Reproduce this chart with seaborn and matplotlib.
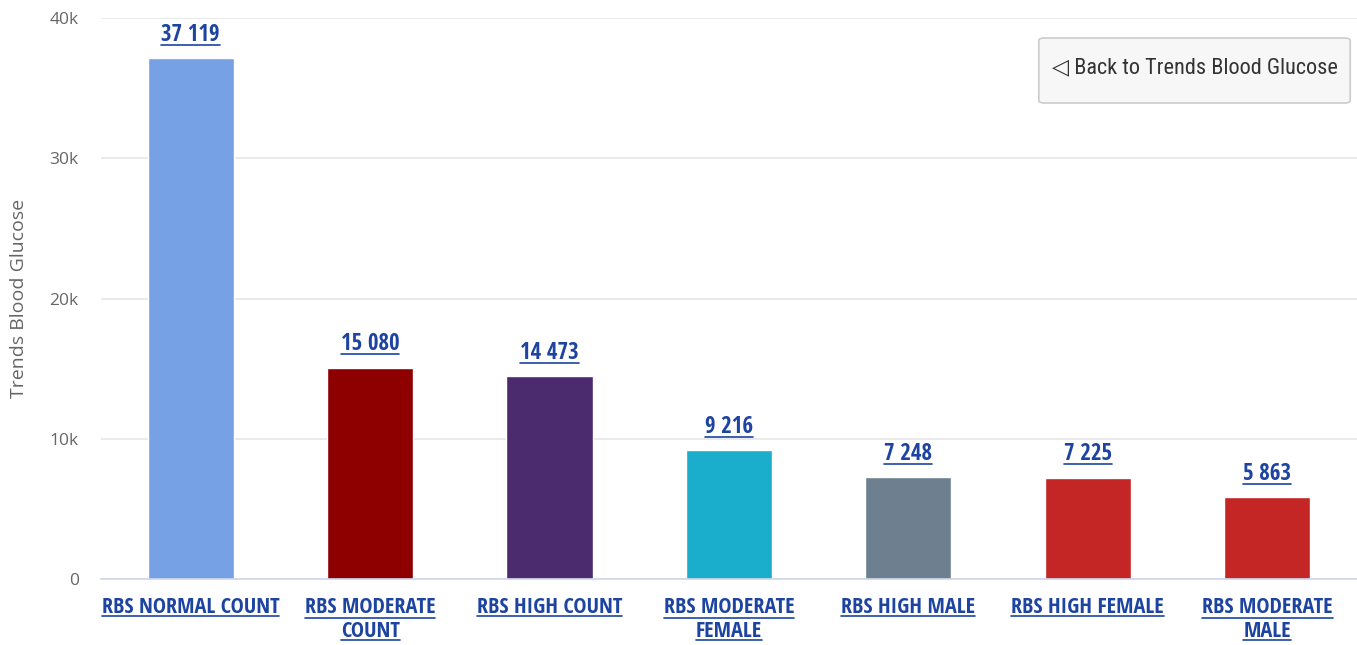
import numpy as np
import pandas as pd
import seaborn as sns
import matplotlib.pyplot as plt
import matplotlib.font_manager as fm
from matplotlib.lines import Line2D
from matplotlib.patches import FancyBboxPatch

categories = ["RBS NORMAL COUNT", "RBS MODERATE\nCOUNT", "RBS HIGH COUNT",
              "RBS MODERATE\nFEMALE", "RBS HIGH MALE", "RBS HIGH FEMALE",
              "RBS MODERATE\nMALE"]
values = [37119, 15080, 14473, 9216, 7248, 7225, 5863]
colors = ["#77a1e5", "#8e0000", "#4b2a6e", "#1aaecc", "#6e7f8f", "#c42525", "#c42525"]
yticks = [0, 10000, 20000, 30000, 40000]
ytick_labels = ["0", "10k", "20k", "30k", "40k"]

# pick narrow fonts if any are around
fonts = fm.fontManager.ttflist
cands = ["Open Sans Condensed", "Roboto Condensed", "Liberation Sans Narrow",
         "PT Sans Narrow", "Fira Sans Condensed", "Archivo Narrow",
         "IBM Plex Sans Condensed", "Encode Sans Condensed", "Asap Condensed"]
narrow = "DejaVu Sans"
for c in cands:
    if any(f.name == c for f in fonts):
        narrow = c
        break
narrow_reg = None
for c in cands:
    if any(f.name == c and f.weight in (400, "normal", "regular") for f in fonts):
        narrow_reg = c
        break
have = set(f.name for f in fonts)
plain = "Open Sans" if "Open Sans" in have else "DejaVu Sans"

sns.set_theme(style="white")
plt.rcParams["font.family"] = [narrow, "DejaVu Sans"]

df = pd.DataFrame({"cat": categories, "val": values})

fig = plt.figure(figsize=(13.57, 6.45), dpi=100)
ax = fig.add_axes([0.0744, 0.1023, 0.9256, 0.8697])

sns.barplot(data=df, x="cat", y="val", hue="cat", palette=colors, width=0.48,
            legend=False, saturation=1, ax=ax)

ax.set_xlim(-0.5, len(categories) - 0.5)
ax.set_ylim(0, 40000)
ax.set_yticks(yticks)
ax.set_yticklabels(ytick_labels, color="#666666", fontsize=12.5,
                   family=[plain, "DejaVu Sans"])
ax.yaxis.grid(True, color="#e6e6e6", linewidth=1.2)
ax.set_axisbelow(True)
ax.set_xlabel("")
ax.set_ylabel("Trends Blood Glucose", color="#666666", fontsize=14,
              family=[plain, "DejaVu Sans"])
ax.yaxis.set_label_coords(-0.058, 0.5)

for s in ["top", "right", "left"]:
    ax.spines[s].set_visible(False)
ax.spines["bottom"].set_color("#ccd6eb")
ax.spines["bottom"].set_linewidth(1.2)

ax.tick_params(axis="y", length=0, pad=16)
ax.tick_params(axis="x", which="major", length=0, pad=13)
ax.set_xticks(np.arange(-0.5, len(categories), 1.0), minor=True)
ax.tick_params(axis="x", which="minor", length=11, color="#ccd6eb", width=1.2)

label_color = "#1d44a0"
underline_texts = []
for lbl in ax.get_xticklabels():
    lbl.set_color(label_color)
    lbl.set_fontsize(16)
    lbl.set_fontweight("bold")
    lbl.set_linespacing(1.2)
    underline_texts.append(lbl)

for i, v in enumerate(values):
    t = ax.text(i, v + 800, f"{v:,}".replace(",", " "), ha="center", va="bottom",
                color=label_color, fontsize=16.5, fontweight="bold")
    underline_texts.append(t)

# button in the top-right corner
btn = FancyBboxPatch((0.7655, 0.8403), 0.2295, 0.1008, boxstyle="round,pad=0,rounding_size=0.004",
                     transform=fig.transFigure, facecolor="#f7f7f7", edgecolor="#cccccc",
                     linewidth=1.2)
fig.patches.append(btn)
if narrow_reg:
    fig.text(0.8803, 0.8945, "\u25c1 Back to Trends Blood Glucose", ha="center", va="center",
             fontsize=16, color="#333333", family=[narrow_reg, "DejaVu Sans"])
else:
    fig.text(0.8803, 0.8945, "\u25c1 Back to Trends Blood Glucose", ha="center", va="center",
             fontsize=13.5, color="#333333", family=[plain, "DejaVu Sans"])

# underline the link-style texts
fig.canvas.draw()
renderer = fig.canvas.get_renderer()
W, H = fig.bbox.width, fig.bbox.height
for t in underline_texts:
    lines = t.get_text().split("\n")
    bb = t.get_window_extent(renderer)
    n = len(lines)
    lh = bb.height / n
    for k, line in enumerate(lines):
        tmp = fig.text(0, 0, line, fontsize=t.get_fontsize(), fontweight="bold",
                       family=t.get_fontfamily())
        w = tmp.get_window_extent(renderer).width
        tmp.remove()
        cx = (bb.x0 + bb.x1) / 2
        y = bb.y1 - lh * (k + 1) + 2
        fig.add_artist(Line2D([(cx - w / 2) / W, (cx + w / 2) / W], [y / H, y / H],
                              transform=fig.transFigure, color=label_color, linewidth=1.2))

fig.savefig("out.png", dpi=100)
